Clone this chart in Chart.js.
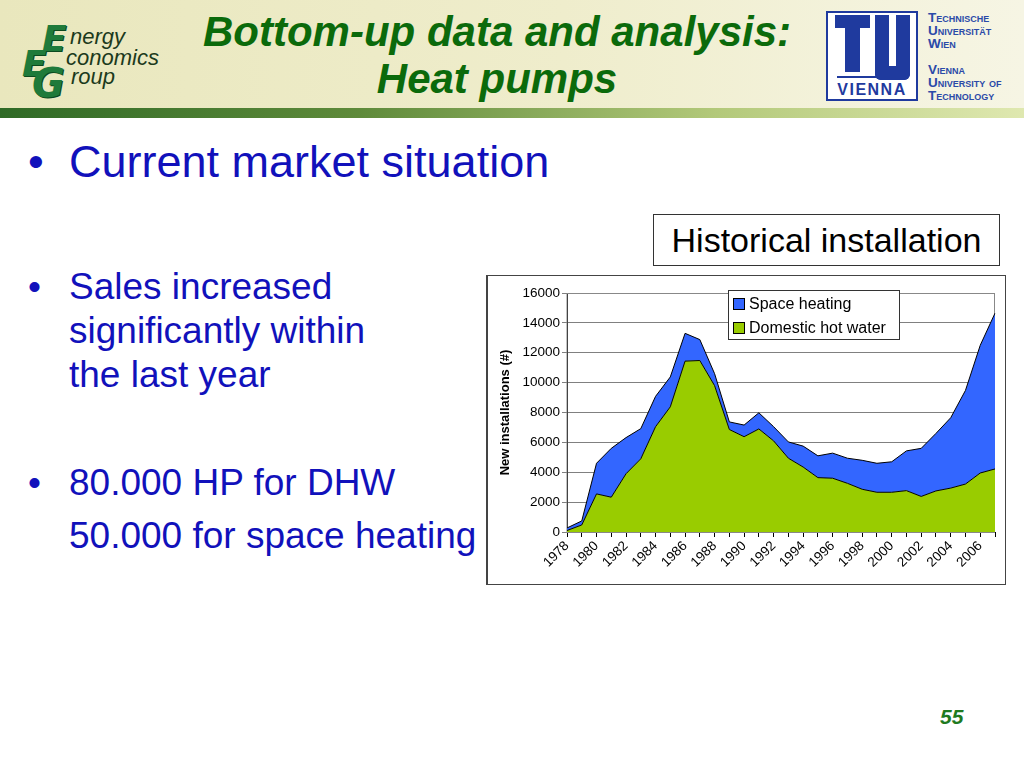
<!DOCTYPE html>
<html>
<head>
<meta charset="utf-8">
<script src="https://cdn.jsdelivr.net/npm/chart.js@4.4.1/dist/chart.umd.min.js"></script>
<style>
  body { margin: 0; width: 1024px; height: 768px; background: #fff; font-family: "Liberation Sans", Arial, sans-serif; position: relative; overflow: hidden; }
  .head { position: absolute; left: 0; top: 0; width: 1024px; height: 108px; background: linear-gradient(to right, #e9e7bd, #efedcc 55%, #f6f5e4); }
  .stripe { position: absolute; left: 0; top: 108px; width: 1024px; height: 10px; background: linear-gradient(to right, #2f6a26, #5e8a3a 35%, #b3c97a 70%, #dfe8b0); }
  .title { position: absolute; left: 150px; width: 694px; top: 8px; text-align: center; color: #0b6a0b; font-weight: bold; font-style: italic; font-size: 42px; line-height: 47px; }
  .eeg-big { position: absolute; color: #1f7a3a; font-weight: bold; font-style: italic; font-size: 36px; line-height: 36px; font-family: "DejaVu Sans", sans-serif; text-shadow: 1px 1px 0 #0b4a1e; }
  .eeg-small { position: absolute; color: #1c3a1c; font-size: 22px; line-height: 22px; font-style: italic; }
  .tu { position: absolute; left: 826px; top: 11px; width: 88px; height: 86px; border: 2px solid #1f3a9e; background: #fff; }
  .tu div { position: absolute; }
  .tutext { position: absolute; left: 928px; color: #2b4aa8; font-weight: bold; font-size: 13.5px; font-variant: small-caps; line-height: 13px; }
  .bul { position: absolute; color: #1111bb; }
  .hist { position: absolute; left: 653px; top: 214px; width: 345px; height: 50px; border: 1px solid #333; text-align: center; font-size: 34px; line-height: 50px; color: #000; }
  .chartbox { position: absolute; left: 486px; top: 275px; width: 517px; height: 308px; border: 1px solid #444; border-left-width: 2px; background: #fff; }
  .page { position: absolute; left: 940px; top: 705px; color: #1f7a1f; font-weight: bold; font-style: italic; font-size: 21px; }
</style>
</head>
<body>
<div class="head"></div>
<div class="stripe"></div>

<div class="eeg-big" style="left:42px; top:21px;">E</div>
<div class="eeg-big" style="left:22px; top:46px;">E</div>
<div class="eeg-big" style="left:32px; top:63px; font-size:40px; line-height:40px;">G</div>
<div class="eeg-small" style="left:70px; top:26px;">nergy</div>
<div class="eeg-small" style="left:66px; top:47px;">conomics</div>
<div class="eeg-small" style="left:71px; top:66px;">roup</div>

<div class="title">Bottom-up data and analysis:<br>Heat pumps</div>

<div class="tu">
  <div style="left:7px; top:2px; width:35px; height:13px; background:#1f3a9e;"></div>
  <div style="left:17px; top:15px; width:15px; height:44px; background:#1f3a9e;"></div>
  <div style="left:47px; top:2px; width:7px; height:51px; border:14px solid #1f3a9e; border-top:0; border-radius:0 0 6px 6px;"></div>
  <div style="left:9px; top:63px; width:70px; height:2px; background:#1f3a9e;"></div>
  <div style="left:0; top:68px; width:88px; text-align:center; color:#1f3a9e; font-weight:bold; font-size:16px; letter-spacing:1.5px;">VIENNA</div>
</div>
<div class="tutext" style="top:11px;">Technische<br>Universität<br>Wien</div>
<div class="tutext" style="top:63px;">Vienna<br>University of<br>Technology</div>

<div class="bul" style="left:28px; top:136px; font-size:45px;">•</div>
<div class="bul" style="left:69px; top:136px; font-size:45px;">Current market situation</div>
<div class="bul" style="left:28px; top:265px; font-size:37px; line-height:44px;">•</div>
<div class="bul" style="left:69px; top:265px; font-size:37px; line-height:44px;">Sales increased<br>significantly within<br>the last year</div>
<div class="bul" style="left:28px; top:456px; font-size:37px; line-height:53px;">•</div>
<div class="bul" style="left:69px; top:456px; font-size:37px; line-height:53px;">80.000 HP for DHW<br>50.000 for space heating</div>

<div class="hist">Historical installation</div>

<div class="chartbox"><canvas id="heatChart"></canvas></div>

<div class="page">55</div>

<script>
const years = ["1978", "1979", "1980", "1981", "1982", "1983", "1984", "1985", "1986", "1987",
    "1988", "1989", "1990", "1991", "1992", "1993", "1994", "1995", "1996", "1997",
    "1998", "1999", "2000", "2001", "2002", "2003", "2004", "2005", "2006", "2007"];
const hotWater = [100, 470, 2550, 2330, 3900, 4900, 7050, 8380, 11440, 11480,
    9800, 6860, 6380, 6900, 6100, 4940, 4350, 3640, 3600, 3260,
    2860, 2660, 2660, 2770, 2380, 2750, 2940, 3210, 3950, 4220];
const spaceHeating = [170, 270, 2050, 3270, 2420, 2020, 2030, 2000, 1860, 1400,
    800, 510, 780, 1080, 950, 1090, 1400, 1460, 1680, 1680,
    1940, 1940, 2040, 2660, 3220, 3850, 4710, 6270, 8550, 10430];
const yMax = 16000;
const yStep = 2000;

Chart.defaults.font.family = "'Liberation Sans', Arial, sans-serif";
Chart.defaults.color = "#000";

// legend box drawn inside the plot, like the Excel chart
const insideLegend = {
    id: "insideLegend",
    afterDraw(chart) {
        const c = chart.ctx;
        const a = chart.chartArea;
        const x = a.left + 161, y = a.top - 3, w = 171, h = 49;
        c.save();
        c.fillStyle = "#fff";
        c.fillRect(x, y, w, h);
        c.strokeStyle = "#333";
        c.lineWidth = 1;
        c.strokeRect(x + 0.5, y + 0.5, w, h);
        const items = [chart.data.datasets[1], chart.data.datasets[0]];
        c.font = "16px 'Liberation Sans', Arial, sans-serif";
        c.textBaseline = "middle";
        items.forEach((ds, i) => {
            const cy = y + 14 + i * 24;
            c.fillStyle = ds.backgroundColor;
            c.fillRect(x + 5, cy - 6, 12, 12);
            c.strokeStyle = "#000";
            c.strokeRect(x + 5.5, cy - 5.5, 11, 11);
            c.fillStyle = "#000";
            c.fillText(ds.label, x + 21, cy + 1);
        });
        c.restore();
    },
    beforeDatasetsDraw(chart) {
        const c = chart.ctx;
        const a = chart.chartArea;
        c.save();
        c.strokeStyle = "#888";
        c.lineWidth = 1;
        c.strokeRect(a.left, a.top + 0.5, a.right - a.left - 0.5, a.bottom - a.top);
        c.restore();
    }
};

new Chart(document.getElementById("heatChart").getContext("2d"), {
    type: "line",
    data: {
        labels: years,
        datasets: [{
            label: "Domestic hot water",
            data: hotWater,
            backgroundColor: "#99cc00",
            borderColor: "#000",
            borderWidth: 1,
            fill: "origin",
            pointRadius: 0,
            tension: 0
        }, {
            label: "Space heating",
            data: spaceHeating,
            backgroundColor: "#3366ff",
            borderColor: "#000",
            borderWidth: 1,
            fill: "-1",
            pointRadius: 0,
            tension: 0
        }]
    },
    options: {
        responsive: true,
        maintainAspectRatio: false,
        animation: false,
        layout: { padding: { top: 17, right: 10, left: 0, bottom: 0 } },
        plugins: {
            legend: { display: false },
            tooltip: { enabled: false }
        },
        scales: {
            x: {
                offset: false,
                grid: { drawOnChartArea: false, drawTicks: true, tickLength: 5, color: "#000" },
                border: { color: "#000" },
                ticks: {
                    autoSkip: false,
                    maxRotation: 45,
                    minRotation: 45,
                    padding: 1,
                    font: { size: 13.5 },
                    callback: (v, i) => (i % 2 === 0 ? years[i] : "")
                },
                afterFit: (s) => { s.height = 52; s.paddingRight = 0; }
            },
            y: {
                stacked: true,
                min: 0,
                max: yMax,
                grid: { color: "#808080", tickLength: 5 },
                border: { color: "#000" },
                ticks: { stepSize: yStep, font: { size: 13.5 }, padding: 2, callback: (v) => String(v) },
                title: {
                    display: true,
                    text: "New installations (#)",
                    font: { size: 13, weight: "bold" },
                    padding: { top: 10, bottom: 0 }
                },
                afterFit: (s) => { s.width = 79; }
            }
        }
    },
    plugins: [insideLegend]
});
</script>
</body>
</html>
